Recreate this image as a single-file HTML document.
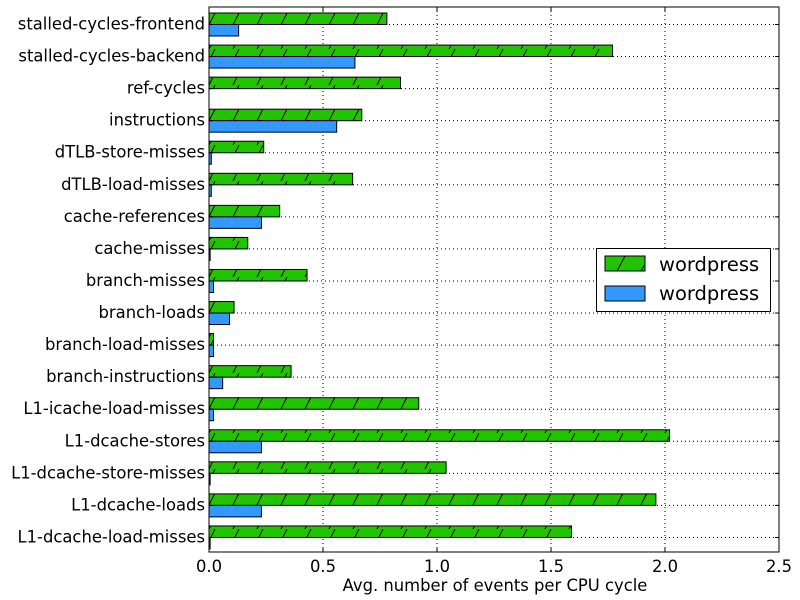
<!DOCTYPE html>
<html><head><meta charset="utf-8"><style>body{margin:0;background:#fff}svg{display:block}text{font-family:"DejaVu Sans","Liberation Sans",sans-serif;fill:#000}</style></head>
<body>
<svg id="chart" width="800" height="600" xmlns="http://www.w3.org/2000/svg">
<defs><pattern id="hatch" patternUnits="userSpaceOnUse" width="24" height="12" x="209" y="1"><rect width="24" height="12" fill="#22c400"/><path d="M0,12 L6,0 M24,12 L30,0 M-24,12 L-18,0" stroke="#000" stroke-width="1"/></pattern></defs>
<g id="grid"></g><g id="bars"></g><g id="axes"></g>
</svg>
<script>
const categories=["stalled-cycles-frontend","stalled-cycles-backend","ref-cycles","instructions","dTLB-store-misses","dTLB-load-misses","cache-references","cache-misses","branch-misses","branch-loads","branch-load-misses","branch-instructions","L1-icache-load-misses","L1-dcache-stores","L1-dcache-store-misses","L1-dcache-loads","L1-dcache-load-misses"];
const greenValues=[0.78,1.77,0.84,0.67,0.24,0.63,0.31,0.17,0.43,0.11,0.02,0.36,0.92,2.02,1.04,1.96,1.59];
const blueValues=[0.13,0.64,0,0.56,0.01,0.01,0.23,0.005,0.02,0.09,0.02,0.06,0.02,0.23,0.005,0.23,0.005];
const xTicks=[0,0.5,1,1.5,2,2.5];
const xTickLabels=["0.0","0.5","1.0","1.5","2.0","2.5"];
const NS="http://www.w3.org/2000/svg";
const L=209,R=779,T=7,B=552;
const x=v=>L+(v/2.5)*(R-L);
const y=i=>24.5+i*32.06;
function mk(tag,attrs,parent,txt){const e=document.createElementNS(NS,tag);for(const k in attrs)e.setAttribute(k,attrs[k]);if(txt!==undefined)e.textContent=txt;document.getElementById(parent)?document.getElementById(parent).appendChild(e):parent.appendChild(e);return e;}
const svg=document.getElementById('chart');
xTicks.forEach((t,i)=>{const l=mk('line',{x1:x(t),x2:x(t),y1:T,y2:B,stroke:'#000','stroke-dasharray':'1,3'},'grid');

});
categories.forEach((c,i)=>{const l=mk('line',{x1:L,x2:R,y1:y(i),y2:y(i),stroke:'#000','stroke-dasharray':'1,3'},'grid');

});
categories.forEach((c,i)=>{
const g=mk('rect',{x:L,y:y(i)-11.5,width:Math.max(0,x(greenValues[i])-L),height:11.5,fill:'url(#hatch)',stroke:'#000','stroke-width':1},'bars');


const b=mk('rect',{x:L,y:y(i),width:Math.max(0,x(blueValues[i])-L),height:11.5,fill:'#3399ff',stroke:'#000','stroke-width':1},'bars');


const t=mk('text',{x:L-4,y:y(i)+5,'text-anchor':'end','font-size':16.4},'axes',c);


const tk=mk('line',{x1:L,x2:L+4,y1:y(i),y2:y(i),stroke:'#000'},'axes');


const tk2=mk('line',{x1:R-4,x2:R,y1:y(i),y2:y(i),stroke:'#000'},'axes');


});
xTicks.forEach((t,i)=>{
const lb=mk('text',{x:x(t),y:572,'text-anchor':'middle','font-size':16.4},'axes',xTickLabels[i]);


const tk=mk('line',{x1:x(t),x2:x(t),y1:B,y2:B-4,stroke:'#000'},'axes');


const tk2=mk('line',{x1:x(t),x2:x(t),y1:T,y2:T+4,stroke:'#000'},'axes');


});
const fr=mk('rect',{x:L,y:T,width:R-L,height:B-T,fill:'none',stroke:'#000','stroke-width':1},'axes');


const xt=mk('text',{x:(L+R)/2+1,y:591,'text-anchor':'middle','font-size':16.4},'axes','Avg. number of events per CPU cycle');


const lg=mk('g',{},svg);


mk('rect',{x:596.5,y:248.5,width:174,height:63,fill:'#fff',stroke:'#000'},lg);
const s1=mk('rect',{x:605,y:256,width:40,height:15,fill:'#22c400',stroke:'#000'},lg);


mk('path',{d:'M617,271 L625,256 M641,271 L645,264',stroke:'#000'},lg);
const t1=mk('text',{x:659,y:271,'font-size':19.5},lg,'wordpress');


const s2=mk('rect',{x:605,y:286,width:40,height:15,fill:'#3399ff',stroke:'#000'},lg);


const t2=mk('text',{x:659,y:300,'font-size':19.5},lg,'wordpress');


</script>
</body></html>
